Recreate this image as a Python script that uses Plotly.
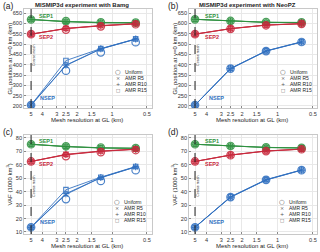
import math
import plotly.graph_objects as go

# ---------------- data ----------------
res = [5, 2.5, 1.25, 0.625]
x_ticks = [5, 4, 3, 2.5, 2, 1.5, 1, 0.5]
x_tick_text = ["5", "4", "3", "2.5", "2", "1.5", "1", "0.5"]
gl_ticks = [200, 250, 300, 350, 400, 450, 500, 550, 600, 650]
vaf_ticks = [10, 20, 30, 40, 50, 60, 70, 80]
coarse_res = 5

# (a) GL position, Bamg
gl_bamg_sep1_uni = [619, 611, 605, 604]
gl_bamg_sep1_r5 = [619, 609, 604, 603]
gl_bamg_sep1_r10 = [619, 608, 603, 602]
gl_bamg_sep1_r15 = [619, 610, 605, 604]
gl_bamg_sep2_uni = [548, 570, 586, 596]
gl_bamg_sep2_r5 = [548, 575, 588, 598]
gl_bamg_sep2_r10 = [548, 575, 589, 598]
gl_bamg_sep2_r15 = [548, 576, 590, 599]
gl_bamg_nsep_uni = [204, 371, 460, 509]
gl_bamg_nsep_r5 = [204, 396, 476, 524]
gl_bamg_nsep_r10 = [204, 398, 477, 524]
gl_bamg_nsep_r15 = [204, 420, 478, 525]

# (b) GL position, NeoPZ
gl_neo_sep1_uni = [620, 612, 606, 605]
gl_neo_sep1_r5 = [620, 611, 605, 604]
gl_neo_sep1_r10 = [620, 611, 605, 604]
gl_neo_sep1_r15 = [620, 612, 606, 605]
gl_neo_sep2_uni = [548, 574, 591, 598]
gl_neo_sep2_r5 = [548, 574, 592, 598]
gl_neo_sep2_r10 = [548, 575, 592, 599]
gl_neo_sep2_r15 = [548, 575, 592, 599]
gl_neo_nsep_uni = [204, 381, 466, 510]
gl_neo_nsep_r5 = [204, 380, 466, 510]
gl_neo_nsep_r10 = [204, 381, 466, 510]
gl_neo_nsep_r15 = [204, 382, 467, 511]

# (c) VAF, Bamg
vaf_bamg_sep1_uni = [75.3, 73.8, 72.8, 72.5]
vaf_bamg_sep1_r5 = [75.3, 73.6, 72.6, 72.3]
vaf_bamg_sep1_r10 = [75.3, 73.5, 72.5, 72.2]
vaf_bamg_sep1_r15 = [75.3, 73.7, 72.7, 72.4]
vaf_bamg_sep2_uni = [62.5, 66.5, 69.5, 71.0]
vaf_bamg_sep2_r5 = [62.5, 67.5, 70.0, 71.5]
vaf_bamg_sep2_r10 = [62.5, 67.6, 70.1, 71.6]
vaf_bamg_sep2_r15 = [62.5, 67.8, 70.3, 71.7]
vaf_bamg_nsep_uni = [13.5, 34.5, 48.0, 56.0]
vaf_bamg_nsep_r5 = [13.5, 38.0, 50.4, 58.4]
vaf_bamg_nsep_r10 = [13.5, 38.5, 50.5, 58.5]
vaf_bamg_nsep_r15 = [13.5, 41.5, 50.8, 58.7]

# (d) VAF, NeoPZ
vaf_neo_sep1_uni = [75.3, 74.0, 73.0, 72.6]
vaf_neo_sep1_r5 = [75.3, 73.9, 72.9, 72.5]
vaf_neo_sep1_r10 = [75.3, 73.9, 72.9, 72.5]
vaf_neo_sep1_r15 = [75.3, 74.0, 73.0, 72.6]
vaf_neo_sep2_uni = [62.5, 67.2, 70.2, 71.6]
vaf_neo_sep2_r5 = [62.5, 67.2, 70.2, 71.6]
vaf_neo_sep2_r10 = [62.5, 67.3, 70.3, 71.7]
vaf_neo_sep2_r15 = [62.5, 67.3, 70.3, 71.7]
vaf_neo_nsep_uni = [13.5, 36.0, 48.8, 56.0]
vaf_neo_nsep_r5 = [13.5, 35.8, 48.7, 56.0]
vaf_neo_nsep_r10 = [13.5, 36.0, 48.8, 56.1]
vaf_neo_nsep_r15 = [13.5, 36.2, 49.0, 56.2]

series_names = ["SEP1", "SEP2", "NSEP"]
legend_labels = ["Uniform", "AMR R5", "AMR R10", "AMR R15"]
panel_letters = ["(a)", "(b)", "(c)", "(d)"]
panel_titles = ["MISMIP3d experiment with Bamg", "MISMIP3d experiment with NeoPZ"]
gl_title = "GL position at y=0 km (km)"
vaf_title = "VAF (1000 km<sup>3</sup>)"
x_title = "Mesh resolution at GL (km)"
coarse_text = "Coarse mesh"

# ---------------- style ----------------
W, H = 320, 252
FONT = "Liberation Sans"
colors = {"SEP1": "#2e9140", "SEP2": "#c8283c", "NSEP": "#2f6fc0"}

panels = [
    dict(ax="", data={"SEP1": [gl_bamg_sep1_uni, gl_bamg_sep1_r5, gl_bamg_sep1_r10, gl_bamg_sep1_r15],
                       "SEP2": [gl_bamg_sep2_uni, gl_bamg_sep2_r5, gl_bamg_sep2_r10, gl_bamg_sep2_r15],
                       "NSEP": [gl_bamg_nsep_uni, gl_bamg_nsep_r5, gl_bamg_nsep_r10, gl_bamg_nsep_r15]},
         px=(24, 152), py=(9, 108), yr=[190, 670], yt=gl_ticks, xr=[0.76, -0.345],
         lab={"SEP1": (3.75, 637), "SEP2": (3.75, 536), "NSEP": (3.6, 238)}, coarse_y=445,
         leg_x=118, leg_y=[72, 78, 84, 90]),
    dict(ax="2", data={"SEP1": [gl_neo_sep1_uni, gl_neo_sep1_r5, gl_neo_sep1_r10, gl_neo_sep1_r15],
                        "SEP2": [gl_neo_sep2_uni, gl_neo_sep2_r5, gl_neo_sep2_r10, gl_neo_sep2_r15],
                        "NSEP": [gl_neo_nsep_uni, gl_neo_nsep_r5, gl_neo_nsep_r10, gl_neo_nsep_r15]},
         px=(189, 317), py=(9, 108), yr=[190, 670], yt=gl_ticks, xr=[0.75, -0.335],
         lab={"SEP1": (3.6, 637), "SEP2": (3.6, 536), "NSEP": (3.3, 238)}, coarse_y=445,
         leg_x=283, leg_y=[72, 78, 84, 90]),
    dict(ax="3", data={"SEP1": [vaf_bamg_sep1_uni, vaf_bamg_sep1_r5, vaf_bamg_sep1_r10, vaf_bamg_sep1_r15],
                        "SEP2": [vaf_bamg_sep2_uni, vaf_bamg_sep2_r5, vaf_bamg_sep2_r10, vaf_bamg_sep2_r15],
                        "NSEP": [vaf_bamg_nsep_uni, vaf_bamg_nsep_r5, vaf_bamg_nsep_r10, vaf_bamg_nsep_r15]},
         px=(24, 152), py=(135, 234), yr=[8.5, 82.2], yt=vaf_ticks, xr=[0.76, -0.345],
         lab={"SEP1": (3.75, 77.8), "SEP2": (3.75, 60.5), "NSEP": (3.6, 17.5)}, coarse_y=44,
         leg_x=117, leg_y=[202, 208, 214, 220]),
    dict(ax="4", data={"SEP1": [vaf_neo_sep1_uni, vaf_neo_sep1_r5, vaf_neo_sep1_r10, vaf_neo_sep1_r15],
                        "SEP2": [vaf_neo_sep2_uni, vaf_neo_sep2_r5, vaf_neo_sep2_r10, vaf_neo_sep2_r15],
                        "NSEP": [vaf_neo_nsep_uni, vaf_neo_nsep_r5, vaf_neo_nsep_r10, vaf_neo_nsep_r15]},
         px=(189, 317), py=(135, 234), yr=[8.5, 82.2], yt=vaf_ticks, xr=[0.75, -0.335],
         lab={"SEP1": (3.6, 77.8), "SEP2": (3.6, 60.5), "NSEP": (3.3, 17.5)}, coarse_y=44,
         leg_x=282, leg_y=[202, 208, 214, 220]),
]

marker_specs = [
    dict(symbol="circle-open", size=7.5, line=dict(width=1.2)),
    dict(symbol="x-thin", size=4.5, line=dict(width=1.2)),
    dict(symbol="cross-thin", size=5, line=dict(width=1.2)),
    dict(symbol="square-open", size=4.5, line=dict(width=1.1)),
]

fig = go.Figure()
annotations = []
shapes = []
layout = {}


def ann(**kw):
    kw.setdefault("showarrow", False)
    kw.setdefault("xanchor", "center")
    kw.setdefault("yanchor", "middle")
    annotations.append(kw)


for i, p in enumerate(panels):
    xa = "x" + p["ax"]
    ya = "y" + p["ax"]
    for name in series_names:
        c = colors[name]
        vals = p["data"][name]
        for k, v in enumerate(vals):
            ms = dict(marker_specs[k])
            ms["color"] = c
            ms["line"] = dict(ms["line"], color=c)
            mode = "markers" if k == 0 else "lines+markers"
            fig.add_trace(go.Scatter(
                x=res, y=v, mode=mode, xaxis=xa, yaxis=ya, showlegend=False,
                marker=ms, line=dict(color=c, width=1), opacity=0.85,
                hoverinfo="skip"))
        lx, ly = p["lab"][name]
        ann(x=math.log10(lx), y=ly, xref=xa, yref=ya, text="<b>%s</b>" % name,
            font=dict(size=5.5, color=c, family=FONT))
    x0, x1 = p["px"]
    y0, y1 = p["py"]
    key = p["ax"]
    layout["xaxis" + key] = dict(
        domain=[x0 / W, x1 / W], anchor=ya, type="log", range=p["xr"], automargin=False,
        tickvals=x_ticks, ticktext=x_tick_text, showgrid=True, gridcolor="#e8e8e8",
        gridwidth=0.6, showline=True, linecolor="#c8c8c8", linewidth=0.6, mirror=True,
        ticks="inside", ticklen=2, tickcolor="#888", zeroline=False,
        tickfont=dict(size=5.6, color="#333", family=FONT))
    layout["yaxis" + key] = dict(
        domain=[1 - y1 / H, 1 - y0 / H], anchor=xa, range=p["yr"], tickvals=p["yt"],
        automargin=False,
        showgrid=True, gridcolor="#e8e8e8", gridwidth=0.6, showline=True,
        linecolor="#c8c8c8", linewidth=0.6, mirror=True, ticks="inside", ticklen=2,
        tickcolor="#888", zeroline=False, tickfont=dict(size=5.6, color="#333", family=FONT))
    # coarse-mesh dashed line
    shapes.append(dict(type="line", xref=xa, yref=ya + " domain", x0=coarse_res, x1=coarse_res,
                       y0=0, y1=1, line=dict(color="#222", width=1, dash="dash")))
    ann(x=math.log10(coarse_res), y=p["coarse_y"], xref=xa, yref=ya, xshift=3.5,
        text=coarse_text, textangle=-90, font=dict(size=3.6, color="#333", family=FONT))
    # panel letter
    ann(x=(x0 - 23) / W, y=1 - (y0 - 3) / H, xref="paper", yref="paper",
        text=panel_letters[i], xanchor="left", font=dict(size=8.5, color="#222", family=FONT))
    # title (top panels)
    if i < 2:
        ann(x=(x0 + 58) / W, y=1 - 5 / H, xref="paper", yref="paper",
            text="<b>%s</b>" % panel_titles[i], font=dict(size=6, color="#222", family=FONT))
    # y title
    ann(x=(x0 - 15) / W, y=1 - ((y0 + y1) / 2) / H, xref="paper", yref="paper",
        text=gl_title if i < 2 else vaf_title, textangle=-90,
        font=dict(size=6, color="#222", family=FONT))
    # x title
    ann(x=((x0 + x1) / 2 - 1) / W, y=1 - (y1 + 12) / H, xref="paper", yref="paper",
        text=x_title, font=dict(size=6, color="#222", family=FONT))
    # legend
    syms = ["○", "×", "+", "□"]
    sym_sizes = [6.5, 5, 5, 4.5]
    for k, lab in enumerate(legend_labels):
        yy = 1 - p["leg_y"][k] / H
        ann(x=p["leg_x"] / W, y=yy, xref="paper", yref="paper", text=syms[k],
            font=dict(size=sym_sizes[k], color="#555", family="DejaVu Sans"))
        ann(x=(p["leg_x"] + 5) / W, y=yy, xref="paper", yref="paper", text=lab,
            xanchor="left", font=dict(size=5, color="#222", family=FONT))

fig.update_layout(
    width=W, height=H, margin=dict(l=0, r=0, t=0, b=0),
    paper_bgcolor="white", plot_bgcolor="white", showlegend=False,
    annotations=annotations, shapes=shapes, **layout)

fig.write_html("out.html", config={"displayModeBar": False},
               post_script="document.body.style.margin='0';document.body.style.overflow='hidden';")
